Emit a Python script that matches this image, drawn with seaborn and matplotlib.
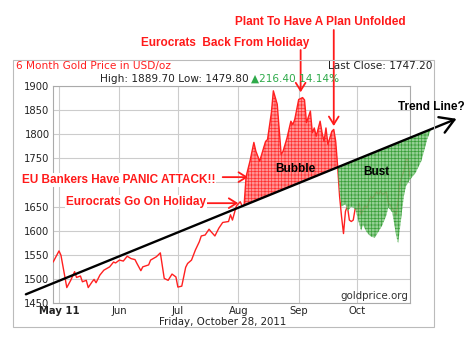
import numpy as np
import pandas as pd
import seaborn as sns
import matplotlib.pyplot as plt
import matplotlib.dates as mdates
from matplotlib.patches import Rectangle

# gold price
price_dates = ["2011-04-28", "2011-05-01", "2011-05-02", "2011-05-05", "2011-05-07", "2011-05-09",
               "2011-05-10", "2011-05-12", "2011-05-13", "2011-05-15", "2011-05-16", "2011-05-18",
               "2011-05-19", "2011-05-20", "2011-05-22", "2011-05-24", "2011-05-27", "2011-05-29",
               "2011-05-30", "2011-06-01", "2011-06-03", "2011-06-05", "2011-06-07", "2011-06-09",
               "2011-06-10", "2011-06-12", "2011-06-13", "2011-06-16", "2011-06-17", "2011-06-20",
               "2011-06-22", "2011-06-24", "2011-06-26", "2011-06-28", "2011-06-30", "2011-07-01",
               "2011-07-03", "2011-07-05", "2011-07-06", "2011-07-08", "2011-07-10", "2011-07-12",
               "2011-07-13", "2011-07-15", "2011-07-17", "2011-07-18", "2011-07-20", "2011-07-22",
               "2011-07-24", "2011-07-27", "2011-07-28", "2011-07-29", "2011-07-31", "2011-08-02",
               "2011-08-03", "2011-08-04", "2011-08-05", "2011-08-07", "2011-08-09", "2011-08-10",
               "2011-08-12", "2011-08-13", "2011-08-15", "2011-08-16", "2011-08-18", "2011-08-19",
               "2011-08-21", "2011-08-23", "2011-08-24", "2011-08-26", "2011-08-28", "2011-08-29",
               "2011-08-30", "2011-09-01", "2011-09-03", "2011-09-04", "2011-09-05", "2011-09-07",
               "2011-09-08", "2011-09-09", "2011-09-10", "2011-09-12", "2011-09-13", "2011-09-14",
               "2011-09-15", "2011-09-16", "2011-09-18", "2011-09-19", "2011-09-20", "2011-09-21",
               "2011-09-22", "2011-09-23", "2011-09-24", "2011-09-25", "2011-09-26", "2011-09-27",
               "2011-09-28", "2011-09-29", "2011-09-30", "2011-10-01", "2011-10-02", "2011-10-03",
               "2011-10-05", "2011-10-06", "2011-10-07", "2011-10-08", "2011-10-09", "2011-10-11",
               "2011-10-12", "2011-10-13", "2011-10-14", "2011-10-16", "2011-10-17", "2011-10-18",
               "2011-10-20", "2011-10-21", "2011-10-22", "2011-10-23", "2011-10-25", "2011-10-26",
               "2011-10-27", "2011-10-28"]
price_vals = [1535, 1558, 1549, 1482, 1497, 1515,
              1503, 1506, 1494, 1497, 1482, 1494,
              1499, 1492, 1508, 1518, 1525, 1535,
              1533, 1539, 1537, 1547, 1542, 1540,
              1532, 1517, 1525, 1529, 1539, 1546,
              1554, 1501, 1497, 1510, 1504, 1483,
              1485, 1524, 1532, 1539, 1560, 1577,
              1589, 1591, 1603, 1598, 1589, 1605,
              1617, 1619, 1633, 1622, 1651, 1660,
              1651, 1653, 1712, 1744, 1783, 1765,
              1744, 1758, 1785, 1789, 1845, 1890,
              1862, 1758, 1765, 1792, 1827, 1820,
              1831, 1872, 1876, 1871, 1824, 1848,
              1803, 1813, 1796, 1827, 1803, 1785,
              1813, 1779, 1806, 1810, 1785, 1733,
              1671, 1629, 1594, 1640, 1651, 1622,
              1619, 1622, 1646, 1643, 1657, 1633,
              1653, 1646, 1660, 1671, 1667, 1681,
              1674, 1683, 1674, 1681, 1657, 1653,
              1640, 1633, 1660, 1702, 1723, 1747,
              1749, 1712]

# hand drawn trend line end points
trend_dates = ["2011-04-14", "2011-11-21"]
trend_vals = [1468, 1832]

# lower edge of the green "bust" area
bust_dates = ["2011-09-21", "2011-09-22", "2011-09-23", "2011-09-25", "2011-09-26", "2011-09-28",
              "2011-09-30", "2011-10-02", "2011-10-03", "2011-10-04", "2011-10-06", "2011-10-08",
              "2011-10-10", "2011-10-12", "2011-10-14", "2011-10-16", "2011-10-17", "2011-10-19",
              "2011-10-20", "2011-10-21", "2011-10-22", "2011-10-23", "2011-10-24", "2011-10-25",
              "2011-10-26", "2011-10-28", "2011-10-31", "2011-11-03", "2011-11-06", "2011-11-08"]
bust_low = [1731, 1680, 1650, 1655, 1640, 1650,
            1645, 1615, 1600, 1612, 1596, 1588,
            1585, 1598, 1612, 1632, 1648, 1638,
            1615, 1590, 1574, 1605, 1640, 1672,
            1692, 1705, 1720, 1745, 1790, 1811]

month_ticks = ["2011-05-01", "2011-06-01", "2011-07-01", "2011-08-01", "2011-09-01", "2011-10-01"]
month_labels = ["May 11", "Jun", "Jul", "Aug", "Sep", "Oct"]

sns.set_theme(style="white")
plt.rcParams['font.family'] = ['DejaVu Sans']
plt.rcParams['hatch.linewidth'] = 0.5

W, H = 473, 355
fig = plt.figure(figsize=(W / 100, H / 100), dpi=100)
ax = fig.add_axes([53 / W, 1 - 303 / H, (410 - 53) / W, (303 - 86) / H])


def fx(x):
    return x / W


def fy(y):
    return 1 - y / H


df = pd.DataFrame({"date": pd.to_datetime(price_dates), "price": price_vals})
sns.lineplot(data=df, x="date", y="price", ax=ax, color="#ff2020", linewidth=1.0, zorder=3)

t_num = mdates.date2num(pd.to_datetime(trend_dates))


def trend_at(d):
    return np.interp(mdates.date2num(d), t_num, trend_vals)


# bubble: price above the trend line
tr = trend_at(df["date"])
mask = (df["date"] >= "2011-08-04") & (df["date"] <= "2011-09-21") & (df["price"] >= tr)
ax.fill_between(df["date"], df["price"], tr, where=mask, interpolate=True,
                facecolor="#ff9494", edgecolor="#ff3030", hatch="+++++", linewidth=0, zorder=2)

# bust: below the trend line
bd = pd.to_datetime(bust_dates)
g = ax.fill_between(bd, bust_low, trend_at(bd), facecolor="#84c984", edgecolor="#2a962a",
                    hatch="+++++", linewidth=0, alpha=0.86, zorder=4)
g.set_clip_on(False)

td = pd.to_datetime(trend_dates)
ax.annotate("", xy=(td[1], trend_vals[1]), xytext=(td[0], trend_vals[0]),
            arrowprops=dict(arrowstyle="->, head_length=0.5, head_width=0.3", lw=1.7,
                            color="black", mutation_scale=20, shrinkA=0, shrinkB=0),
            annotation_clip=False, zorder=6)

ax.set_xlim(pd.Timestamp("2011-04-27 22:00"), pd.Timestamp("2011-10-28 03:00"))
ax.set_ylim(1450, 1900)
ax.set_yticks(range(1450, 1901, 50))
ax.set_xticks(pd.to_datetime(month_ticks))
ax.set_xticklabels(month_labels)
ax.set_xlabel("")
ax.set_ylabel("")
ax.set_axisbelow(True)
ax.grid(True, color="#cccccc", linewidth=0.8)
ax.tick_params(length=0, labelsize=7.2, labelcolor="#222222", pad=2.5)
ax.get_xticklabels()[0].set_fontweight("bold")
for s in ax.spines.values():
    s.set_color("#aaaaaa")
    s.set_linewidth(0.8)

# outer frame
fig.add_artist(Rectangle((fx(13), fy(327)), fx(434) - fx(13), fy(60) - fy(327),
                         transform=fig.transFigure, fill=False, edgecolor="#bbbbbb", linewidth=0.8))

fig.text(fx(16), fy(66), "6 Month Gold Price in USD/oz", color="#ff2020", fontsize=7.6, va="center")
fig.text(fx(432), fy(66), "Last Close: 1747.20", color="#222222", fontsize=7.6, va="center", ha="right")
fig.text(fx(100), fy(79), "High: 1889.70 Low: 1479.80", color="#222222", fontsize=7.6, va="center")
fig.text(fx(251), fy(79), "\u25b2216.40 14.14%", color="#2eaa4a", fontsize=7.6, va="center")
fig.text(fx(223), fy(322), "Friday, October 28, 2011", color="#222222", fontsize=7.4, va="center", ha="center")
fig.text(fx(408), fy(296), "goldprice.org", color="#333333", fontsize=7.4, va="center", ha="right")

bold = dict(family=["Liberation Sans", "DejaVu Sans"], fontweight="bold", fontsize=8.5, va="center")
red = "#ff1a1a"
fig.text(fx(235), fy(22), "Plant To Have A Plan Unfolded", color=red, **bold)
fig.text(fx(141), fy(43), "Eurocrats  Back From Holiday", color=red, **bold)
fig.text(fx(22), fy(180), "EU Bankers Have PANIC ATTACK!!", color=red,
         bbox=dict(facecolor="white", edgecolor="none", pad=0.6), **bold)
fig.text(fx(66), fy(202), "Eurocrats Go On Holiday", color=red,
         bbox=dict(facecolor="white", edgecolor="none", pad=0.6), **bold)
fig.text(fx(295), fy(169), "Bubble", color="black", ha="center", zorder=7, **bold)
fig.text(fx(376), fy(172), "Bust", color="black", ha="center", zorder=7, **bold)
fig.text(fx(431), fy(107), "Trend Line?", color="black", ha="center", **bold)

arrow = dict(arrowstyle="->, head_length=0.4, head_width=0.25", lw=1.3, color=red,
             mutation_scale=14, shrinkA=0, shrinkB=0)
ax.annotate("", xy=(pd.Timestamp("2011-09-19"), 1817), xytext=(pd.Timestamp("2011-09-19"), 355 - 30),
            textcoords=("data", "figure pixels"), arrowprops=arrow, annotation_clip=False)
ax.annotate("", xy=(pd.Timestamp("2011-09-02"), 1887), xytext=(pd.Timestamp("2011-09-02"), 355 - 50),
            textcoords=("data", "figure pixels"), arrowprops=arrow, annotation_clip=False)
ax.annotate("", xy=(pd.Timestamp("2011-08-06"), 1711), xytext=(pd.Timestamp("2011-07-24"), 1711),
            arrowprops=arrow, annotation_clip=False)
ax.annotate("", xy=(pd.Timestamp("2011-08-01"), 1657), xytext=(pd.Timestamp("2011-07-16"), 1657),
            arrowprops=arrow, annotation_clip=False)

fig.savefig("out.png", dpi=100)
